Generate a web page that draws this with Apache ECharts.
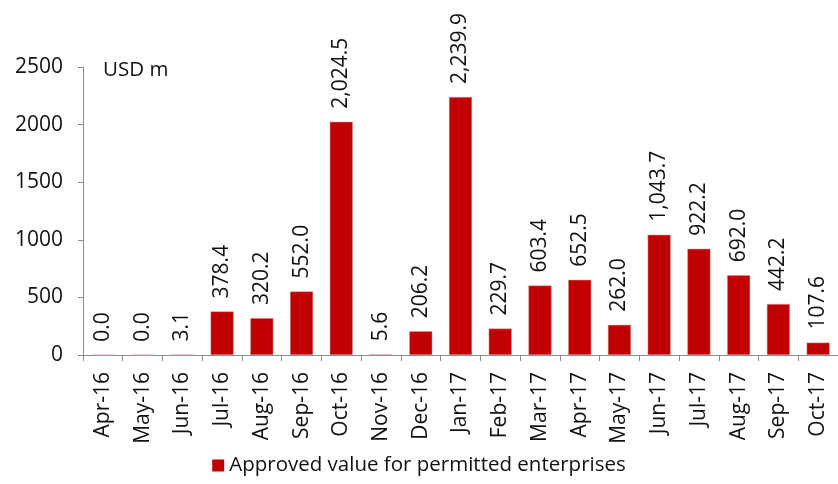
<!DOCTYPE html>
<html>
<head>
<meta charset="utf-8">
<script src="https://cdn.jsdelivr.net/npm/echarts@6/dist/echarts.min.js"></script>
<style>
    html, body { margin: 0; padding: 0; background: #fff; }
    #chart { width: 838px; height: 484px; }
</style>
</head>
<body>
<div id="chart"></div>
<script>
"use strict";
var months = ["Apr-16", "May-16", "Jun-16", "Jul-16", "Aug-16", "Sep-16", "Oct-16", "Nov-16", "Dec-16",
    "Jan-17", "Feb-17", "Mar-17", "Apr-17", "May-17", "Jun-17", "Jul-17", "Aug-17", "Sep-17", "Oct-17"];
var approvedValues = [0.0, 0.0, 3.1, 378.4, 320.2, 552.0, 2024.5, 5.6, 206.2,
    2239.9, 229.7, 603.4, 652.5, 262.0, 1043.7, 922.2, 692.0, 442.2, 107.6];
var yTicks = [0, 500, 1000, 1500, 2000, 2500];

var fontName = "'Open Sans', 'Liberation Sans', sans-serif";
var textColor = "#111111";
var axisColor = "#8c8c8c";
var chart = echarts.init(document.getElementById("chart"));

// 1 decimal with thousands separator, like the source labels
function formatValue(v) {
    var parts = v.toFixed(1).split(".");
    return parts[0].replace(/\B(?=(\d{3})+(?!\d))/g, ",") + "." + parts[1];
}

var options = {
    animation: false,
    textStyle: {fontFamily: fontName},
    title: {
        text: "USD m",
        left: 98,
        top: 55,
        textStyle: {fontSize: 20.5, fontWeight: "normal", color: textColor, fontFamily: fontName}
    },
    legend: {
        bottom: 3,
        left: "center",
        itemWidth: 12,
        itemHeight: 12,
        itemGap: 10,
        icon: "rect",
        itemStyle: {borderWidth: 0},
        textStyle: {fontSize: 20.5, color: textColor, fontFamily: fontName},
        data: ["Approved value for permitted enterprises"]
    },
    grid: {
        left: 83,
        top: 67,
        width: 758,
        height: 288,
        containLabel: false
    },
    xAxis: {
        type: "category",
        data: months,
        axisLine: {lineStyle: {color: axisColor}},
        axisTick: {show: true, length: 6, interval: 0, lineStyle: {color: axisColor}},
        axisLabel: {
            rotate: 90,
            interval: 0,
            margin: 17,
            fontSize: 21,
            color: textColor,
            fontFamily: fontName
        }
    },
    yAxis: {
        type: "value",
        min: yTicks[0],
        max: yTicks[yTicks.length - 1],
        interval: 500,
        splitLine: {show: false},
        axisLine: {show: true, lineStyle: {color: axisColor}},
        axisTick: {show: true, length: 5, lineStyle: {color: axisColor}},
        axisLabel: {
            fontSize: 21,
            color: textColor,
            margin: 20,
            fontFamily: fontName,
            formatter: function (v) {
                return String(v);
            }
        }
    },
    series: [{
        name: "Approved value for permitted enterprises",
        type: "bar",
        data: approvedValues,
        barCategoryGap: "42%",
        itemStyle: {color: "#c00000", borderColor: "#d9a0a0", borderWidth: 0.5},
        label: {
            show: true,
            position: "top",
            rotate: 90,
            align: "left",
            verticalAlign: "middle",
            distance: 13,
            fontSize: 21,
            color: textColor,
            fontFamily: fontName,
            formatter: function (p) {
                return formatValue(p.value);
            }
        }
    }]
};

chart.setOption(options);
</script>
</body>
</html>
